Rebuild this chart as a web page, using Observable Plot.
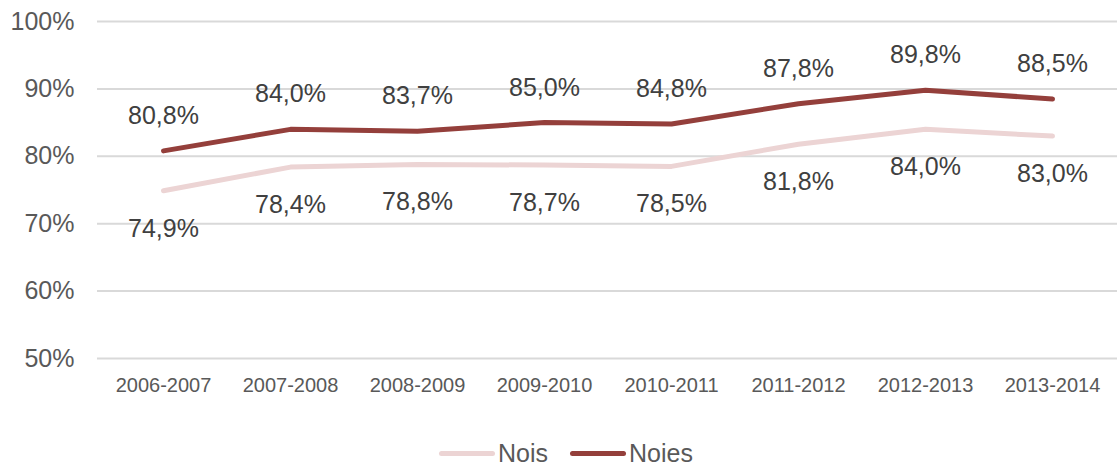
<!DOCTYPE html>
<html>
<head>
<meta charset="utf-8">
<script src="https://cdn.jsdelivr.net/npm/d3@7"></script>
<script src="https://cdn.jsdelivr.net/npm/@observablehq/plot@0.6"></script>
<style>
  body { margin: 0; background: #fff; font-family: "Liberation Sans", Arial, sans-serif; }
  #legend { display: flex; justify-content: center; align-items: center; height: 40px; margin-top: 23px; padding-left: 15px; font-size: 25px; color: #595959; }
  .item { display: flex; align-items: center; margin: 0 11px; }
  .sw { width: 56px; height: 5px; border-radius: 3px; margin-right: 3px; }
</style>
</head>
<body>
<div id="chart"></div>
<div id="legend"></div>
<script>
const years = ["2006-2007","2007-2008","2008-2009","2009-2010","2010-2011","2011-2012","2012-2013","2013-2014"];
const nois = [74.9, 78.4, 78.8, 78.7, 78.5, 81.8, 84.0, 83.0];
const noies = [80.8, 84.0, 83.7, 85.0, 84.8, 87.8, 89.8, 88.5];
const yTicks = [50, 60, 70, 80, 90, 100];
const seriesNames = ["Nois", "Noies"];
const colors = ["#ecd4d4", "#943f3b"];

const rows = [];
years.forEach((y, i) => {
  rows.push({year: y, serie: "Nois", value: nois[i]});
  rows.push({year: y, serie: "Noies", value: noies[i]});
});
const fmt = v => d3.format(".1f")(v).replace(".", ",") + "%";

const chart = Plot.plot({
  width: 1117,
  height: 410,
  marginLeft: 97,
  marginRight: 0,
  marginTop: 21,
  marginBottom: 52,
  style: {fontFamily: "Liberation Sans, Arial, sans-serif", background: "#fff"},
  x: {type: "point", domain: years, padding: 0.5, label: null},
  y: {domain: [50, 100], ticks: yTicks, label: null},
  color: {domain: seriesNames, range: colors},
  marks: [
    Plot.gridY(yTicks, {stroke: "#d9d9d9", strokeOpacity: 1, strokeWidth: 2}),
    Plot.axisY(yTicks, {tickSize: 0, tickPadding: 23, tickFormat: d => d + "%", fontSize: 25, fill: "#595959", label: null}),
    Plot.axisX({tickSize: 0, tickPadding: 19, fontSize: 20, fill: "#595959", label: null}),
    Plot.line(rows, {x: "year", y: "value", z: "serie", stroke: "serie", strokeWidth: 5, strokeLinecap: "round", strokeLinejoin: "round"}),
    Plot.text(rows.filter(d => d.serie === "Noies"), {x: "year", y: "value", text: d => fmt(d.value), dy: -35, fontSize: 25, fill: "#404040"}),
    Plot.text(rows.filter(d => d.serie === "Nois"), {x: "year", y: "value", text: d => fmt(d.value), dy: 38, fontSize: 25, fill: "#404040"})
  ]
});
document.getElementById("chart").appendChild(chart);

const legend = document.getElementById("legend");
seriesNames.forEach((n, i) => {
  const it = document.createElement("div");
  it.className = "item";
  const sw = document.createElement("div");
  sw.className = "sw";
  sw.style.background = colors[i];
  const t = document.createElement("span");
  t.textContent = n;
  it.appendChild(sw); it.appendChild(t);
  legend.appendChild(it);
});
</script>
</body>
</html>
